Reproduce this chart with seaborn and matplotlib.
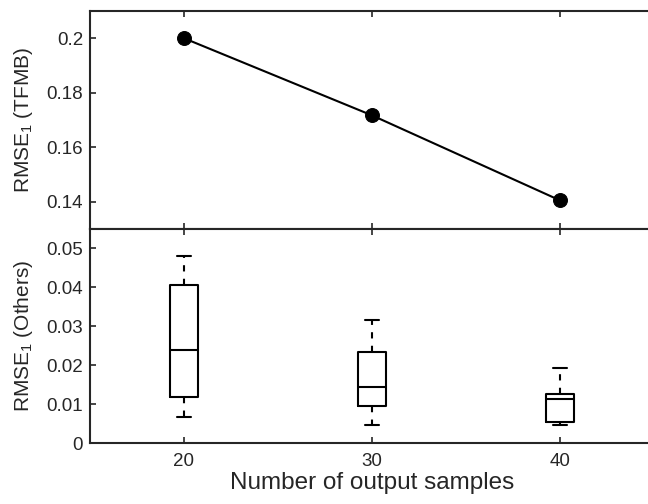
import numpy as np
import pandas as pd
import matplotlib
matplotlib.use('Agg')
import matplotlib.pyplot as plt
import seaborn as sns

#=====================
# DATA
#=====================
samples = [20, 30, 40]
rmse_tfmb = [0.2, 0.1717, 0.1405]

# five values per box: lower whisker, q1, median, q3, upper whisker
others_20 = [0.0066, 0.0118, 0.0238, 0.0407, 0.0481]
others_30 = [0.0047, 0.0094, 0.0144, 0.0233, 0.0315]
others_40 = [0.0046, 0.0054, 0.0112, 0.0126, 0.0194]

x_ticks = [20, 30, 40]
top_yticks = [0.14, 0.16, 0.18, 0.2]
top_yticklabels = ['0.14', '0.16', '0.18', '0.2']
bot_yticks = [0, 0.01, 0.02, 0.03, 0.04, 0.05]
bot_yticklabels = ['0', '0.01', '0.02', '0.03', '0.04', '0.05']

df_box = pd.DataFrame({
    'samples': np.repeat(samples, 5),
    'rmse': others_20 + others_30 + others_40,
})

#=====================
# STYLE
#=====================
sns.set_style('ticks')
plt.rcParams['font.family'] = ['Liberation Sans', 'DejaVu Sans']
plt.rcParams['mathtext.fontset'] = 'custom'
plt.rcParams['mathtext.rm'] = 'Liberation Sans'
plt.rcParams['mathtext.it'] = 'Liberation Sans:italic'
ink = '#262626'

fig = plt.figure(figsize=(6.48, 5.04), dpi=100, facecolor='white')
W, H = 648, 504
left, right = 90, 654
ax_top = fig.add_axes([left / W, 1 - 229 / H, (right - left) / W, 218 / H])
ax_bot = fig.add_axes([left / W, 1 - 443 / H, (right - left) / W, 214 / H])

# --- top panel: TFMB line ---
sns.lineplot(x=samples, y=rmse_tfmb, color='black', marker='o', markersize=10,
             markeredgecolor='black', linewidth=1.5, ax=ax_top)

# --- bottom panel: others boxplot ---
sns.boxplot(data=df_box, x='samples', y='rmse', native_scale=True, orient='x',
            width=0.15, fill=False, color='black', linewidth=1.5,
            showfliers=False, whiskerprops={'linestyle': (0, (3, 3.5))},
            ax=ax_bot)

for ax in [ax_top, ax_bot]:
    ax.set_xlim(15, 45)
    ax.set_xticks(x_ticks)
    ax.tick_params(direction='in', top=True, right=True, length=4.5,
                   width=1.2, color=ink, labelcolor=ink, labelsize=13.5)
    ax.tick_params(axis='y', pad=5)
    ax.tick_params(axis='x', pad=7)
    for spine in ['left', 'bottom', 'top', 'right']:
        ax.spines[spine].set_visible(True)
        ax.spines[spine].set_color(ink)
        ax.spines[spine].set_linewidth(1.5)
    ax.grid(False)

ax_top.set_ylim(0.13, 0.21)
ax_top.set_yticks(top_yticks)
ax_top.set_yticklabels(top_yticklabels)
ax_top.tick_params(labelbottom=False)
ax_top.set_xlabel('')
ax_top.set_ylabel(r'RMSE$_1$ (TFMB)', fontsize=15, color=ink)

ax_bot.set_ylim(0, 0.055)
ax_bot.set_yticks(bot_yticks)
ax_bot.set_yticklabels(bot_yticklabels)
ax_bot.set_xticklabels([str(t) for t in x_ticks])
ax_bot.set_ylabel(r'RMSE$_1$ (Others)', fontsize=15, color=ink)
ax_bot.set_xlabel('Number of output samples', fontsize=17.5, color=ink, labelpad=2)

for ax in [ax_top, ax_bot]:
    ax.yaxis.set_label_coords((35 - left) / (right - left), 0.5)

fig.savefig('out.png', dpi=100, facecolor='white')
